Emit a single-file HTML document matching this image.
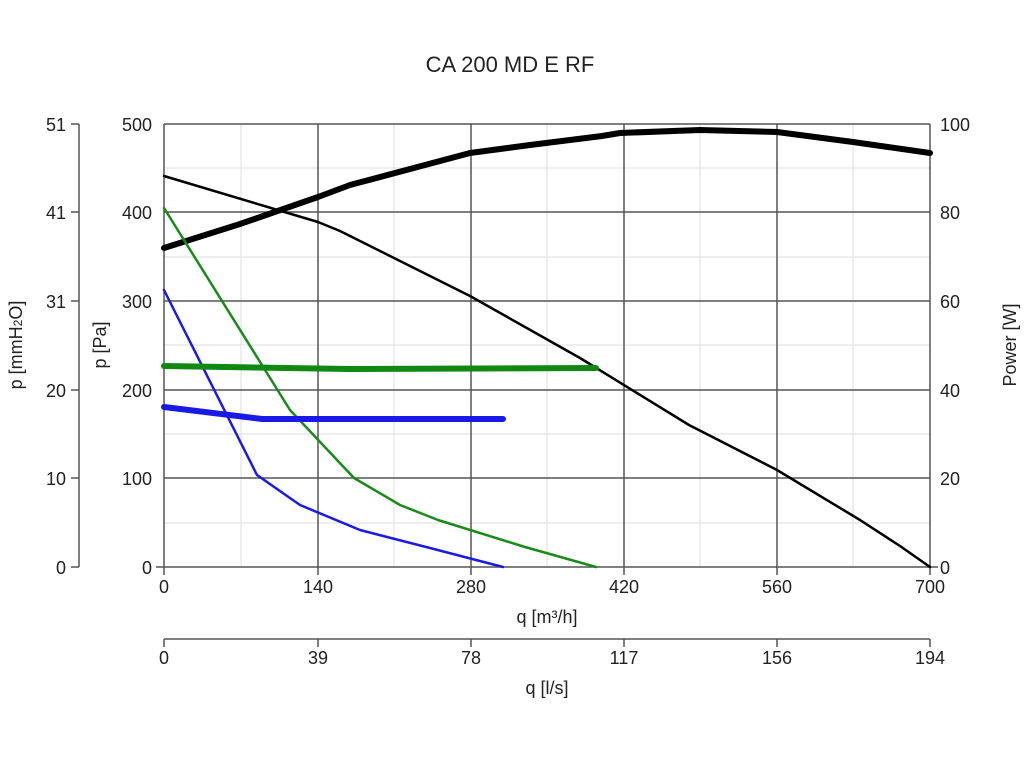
<!DOCTYPE html>
<html><head><meta charset="utf-8"><style>body{margin:0;background:#fff}svg{display:block}text{font-family:"Liberation Sans",sans-serif;fill:#222}</style></head><body>
<svg width="1024" height="768" viewBox="0 0 1024 768">
<text x="510" y="72" font-size="22" text-anchor="middle">CA 200 MD E RF</text>
<g stroke="#ddd" stroke-width="1">
<line x1="241" y1="124" x2="241" y2="567"/><line x1="394" y1="124" x2="394" y2="567"/><line x1="547" y1="124" x2="547" y2="567"/><line x1="700" y1="124" x2="700" y2="567"/><line x1="853" y1="124" x2="853" y2="567"/>
<line x1="164" y1="168" x2="930" y2="168"/><line x1="164" y1="257" x2="930" y2="257"/><line x1="164" y1="345" x2="930" y2="345"/><line x1="164" y1="434" x2="930" y2="434"/><line x1="164" y1="523" x2="930" y2="523"/>
</g>
<g stroke="#555" stroke-width="1.5">
<line x1="164" y1="124" x2="930" y2="124"/><line x1="164" y1="212" x2="930" y2="212"/><line x1="164" y1="301" x2="930" y2="301"/><line x1="164" y1="390" x2="930" y2="390"/><line x1="164" y1="478" x2="930" y2="478"/><line x1="156" y1="567" x2="938" y2="567"/>
<line x1="164" y1="124" x2="164" y2="575"/><line x1="318" y1="124" x2="318" y2="575"/><line x1="471" y1="124" x2="471" y2="575"/><line x1="624" y1="124" x2="624" y2="575"/><line x1="777" y1="124" x2="777" y2="575"/><line x1="930" y1="124" x2="930" y2="575"/>
<line x1="79" y1="124" x2="79" y2="567"/>
<line x1="71" y1="124" x2="79" y2="124"/><line x1="71" y1="212" x2="79" y2="212"/><line x1="71" y1="301" x2="79" y2="301"/><line x1="71" y1="390" x2="79" y2="390"/><line x1="71" y1="478" x2="79" y2="478"/><line x1="71" y1="567" x2="79" y2="567"/>
<line x1="164" y1="639" x2="930" y2="639"/>
<line x1="164" y1="639" x2="164" y2="647"/><line x1="318" y1="639" x2="318" y2="647"/><line x1="471" y1="639" x2="471" y2="647"/><line x1="624" y1="639" x2="624" y2="647"/><line x1="777" y1="639" x2="777" y2="647"/><line x1="930" y1="639" x2="930" y2="647"/>
</g>
<g font-size="18" text-anchor="end">
<text x="152" y="131">500</text><text x="152" y="219">400</text><text x="152" y="308">300</text><text x="152" y="397">200</text><text x="152" y="485">100</text><text x="152" y="574">0</text>
<text x="66" y="131">51</text><text x="66" y="219">41</text><text x="66" y="308">31</text><text x="66" y="397">20</text><text x="66" y="485">10</text><text x="66" y="574">0</text>
</g>
<g font-size="18" text-anchor="start">
<text x="940" y="131">100</text><text x="940" y="219">80</text><text x="940" y="308">60</text><text x="940" y="397">40</text><text x="940" y="485">20</text><text x="940" y="574">0</text>
</g>
<g font-size="18" text-anchor="middle">
<text x="164" y="593">0</text><text x="318" y="593">140</text><text x="471" y="593">280</text><text x="624" y="593">420</text><text x="777" y="593">560</text><text x="930" y="593">700</text>
<text x="164" y="664">0</text><text x="318" y="664">39</text><text x="471" y="664">78</text><text x="624" y="664">117</text><text x="777" y="664">156</text><text x="930" y="664">194</text>
<text x="547" y="623">q [m³/h]</text><text x="547" y="694">q [l/s]</text>
</g>
<text transform="translate(106,345) rotate(-90)" font-size="18" text-anchor="middle">p [Pa]</text>
<text transform="translate(22,345) rotate(-90)" font-size="18" text-anchor="middle">p [mmH<tspan font-size="12">2</tspan>O]</text>
<text transform="translate(1016,345) rotate(-90)" font-size="18" text-anchor="middle">Power [W]</text>
<g fill="none" stroke-linejoin="round" stroke-linecap="round">
<polyline stroke="#000" stroke-width="2.5" points="164,176 318,222 340,231 470,296 580,358 689,425 777,470 860,520 900,546 930,567"/>
<polyline stroke="#000" stroke-width="6" points="164,248 240,224 318,197 350,185 470,153 530,145 602,136 620,133 700,130 777,132 853,142 930,153"/>
<polyline stroke="#1a8a1a" stroke-width="2.5" points="164,208 290,410 354,478 400,505 438,520 525,547 596,567"/>
<polyline stroke="#1a1ae6" stroke-width="2.5" points="164,290 257,475 300,505 360,530 430,548 503,567"/>
<polyline stroke="#118811" stroke-width="6" points="164,366 350,369 596,368"/>
<polyline stroke="#1a1ae6" stroke-width="6" points="164,407 262,419 503,419"/>
</g>
</svg>
</body></html>
